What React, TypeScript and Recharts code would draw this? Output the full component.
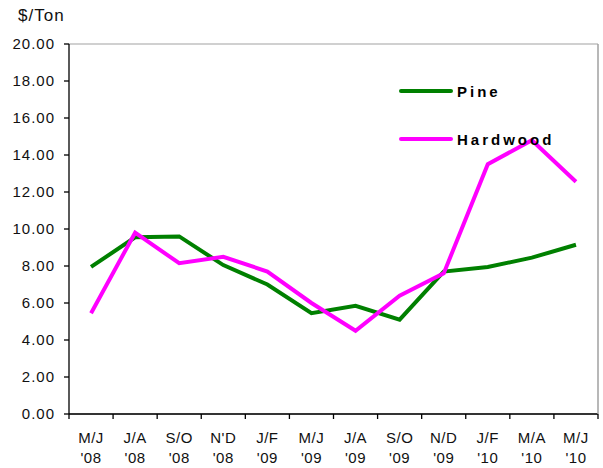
import { LineChart, Line, XAxis, YAxis, CartesianGrid } from "recharts";

const periods = ["M/J", "J/A", "S/O", "N'D", "J/F", "M/J", "J/A", "S/O", "N/D", "J/F", "M/A", "M/J"];
const years = ["'08", "'08", "'08", "'08", "'09", "'09", "'09", "'09", "'09", "'10", "'10", "'10"];
const pine = [7.95, 9.55, 9.6, 8.05, 7.0, 5.45, 5.85, 5.1, 7.7, 7.95, 8.45, 9.15];
const hardwood = [5.45, 9.8, 8.15, 8.5, 7.7, 6.0, 4.5, 6.4, 7.6, 13.5, 14.8, 12.55];
const yTicks = [0, 2, 4, 6, 8, 10, 12, 14, 16, 18, 20];

const data = periods.map((p, i) => ({
  key: i,
  period: p,
  year: years[i],
  pine: pine[i],
  hardwood: hardwood[i],
}));

const W = 603;
const H = 468;
const FONT = "'Liberation Sans', Arial, sans-serif";
const PLOT_LEFT = 69;
const PLOT_RIGHT = 598;
const BAND = (PLOT_RIGHT - PLOT_LEFT) / periods.length;

const XTick = (props: any) => {
  const { x, y, payload, index } = props;
  const i = payload.value;
  const left = x - BAND / 2;
  return (
    <g>
      <line x1={left} x2={left} y1={y} y2={y + 5} stroke="#000" strokeWidth={1.3} />
      {index === periods.length - 1 && (
        <line x1={x + BAND / 2} x2={x + BAND / 2} y1={y} y2={y + 5} stroke="#000" strokeWidth={1.3} />
      )}
      <text x={x} y={y + 29} textAnchor="middle" fontSize={15} fill="#111" fontFamily={FONT} letterSpacing={0.5}>
        {periods[i]}
      </text>
      <text x={x} y={y + 49} textAnchor="middle" fontSize={15} fill="#111" fontFamily={FONT} letterSpacing={0.5}>
        {years[i]}
      </text>
    </g>
  );
};

const legendItems = [
  { name: "Pine", color: "#008000" },
  { name: "Hardwood", color: "#ff00ff" },
];

export default function App() {
  return (
    <div style={{ position: "absolute", left: 0, top: 0, width: W, height: H, background: "#fff" }}>
      <div style={{ position: "absolute", left: 18, top: 6, fontFamily: FONT, fontSize: 17, letterSpacing: 1, color: "#111" }}>
        $/Ton
      </div>
      <LineChart width={W} height={H} data={data} margin={{ top: 44, right: 0, bottom: 0, left: 0 }}>
        <CartesianGrid vertical={false} stroke="#c0c0c0" strokeWidth={1.5} />
        <rect x={390} y={70} width={200} height={92} fill="#fff" />
        <XAxis
          dataKey="key"
          height={54}
          padding={{ left: BAND / 2, right: BAND / 2 }}
          axisLine={{ stroke: "#000", strokeWidth: 1.3 }}
          tickLine={false}
          tickSize={0}
          tickMargin={0}
          tick={<XTick />}
          interval={0}
        />
        <YAxis
          yAxisId="l"
          width={PLOT_LEFT}
          domain={[0, 20]}
          ticks={yTicks}
          tickFormatter={(v: number) => v.toFixed(2)}
          tickSize={5}
          tickMargin={9}
          axisLine={{ stroke: "#000", strokeWidth: 1.3 }}
          tickLine={{ stroke: "#000", strokeWidth: 1.3 }}
          tick={{ fontSize: 15, fill: "#111", fontFamily: FONT, letterSpacing: 1 }}
        />
        <YAxis
          yAxisId="r"
          orientation="right"
          width={W - PLOT_RIGHT}
          domain={[0, 20]}
          ticks={yTicks}
          tick={false}
          tickLine={false}
          axisLine={{ stroke: "#a0a0a0", strokeWidth: 1.5 }}
        />
        <Line
          yAxisId="l"
          type="linear"
          dataKey="pine"
          name="Pine"
          stroke="#008000"
          strokeWidth={4}
          dot={false}
          isAnimationActive={false}
        />
        <Line
          yAxisId="l"
          type="linear"
          dataKey="hardwood"
          name="Hardwood"
          stroke="#ff00ff"
          strokeWidth={4}
          dot={false}
          isAnimationActive={false}
        />
      </LineChart>
      <div
        style={{
          position: "absolute",
          left: 399,
          top: 80,
          fontFamily: FONT,
          fontWeight: "bold",
          fontSize: 15,
          letterSpacing: 3,
          color: "#000",
        }}
      >
        {legendItems.map((s, i) => (
          <div key={s.name} style={{ display: "flex", alignItems: "center", height: 22, marginTop: i ? 26 : 0 }}>
            <div style={{ width: 54, height: 4, borderRadius: 2, background: s.color, marginRight: 4 }} />
            <span>{s.name}</span>
          </div>
        ))}
      </div>
    </div>
  );
}
